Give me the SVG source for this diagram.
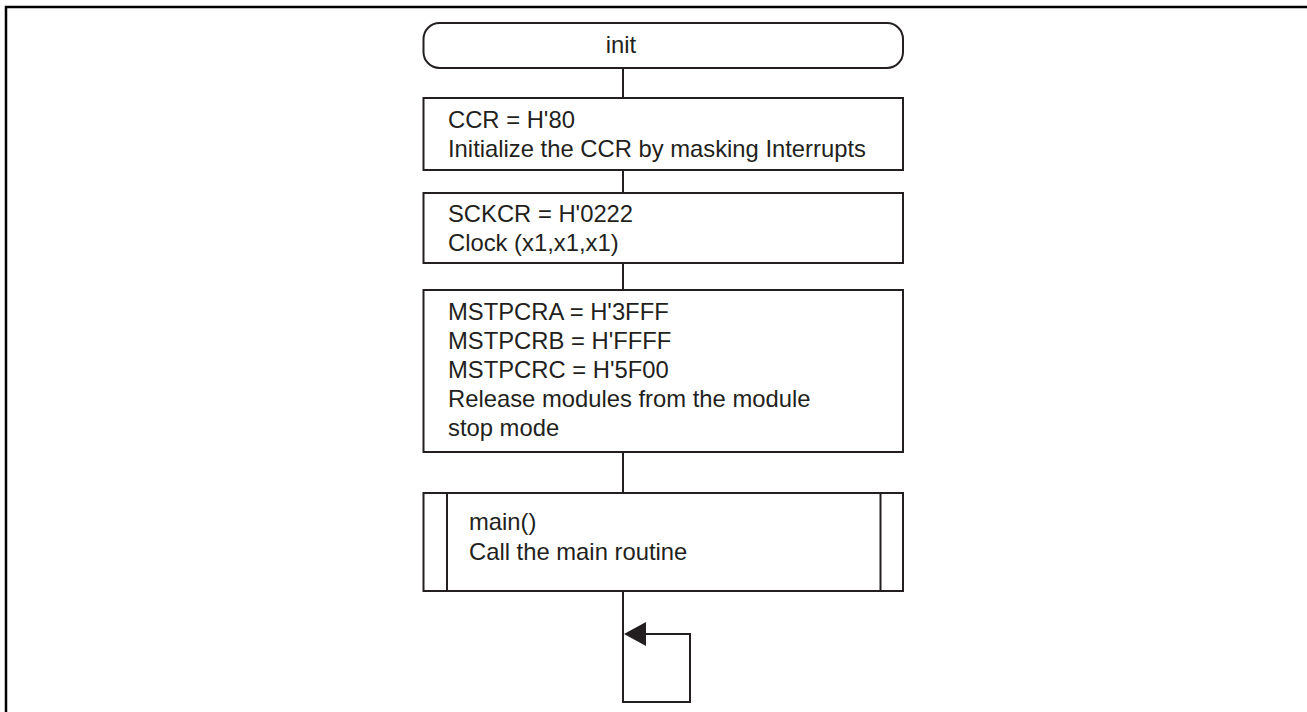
<svg xmlns="http://www.w3.org/2000/svg" width="1307" height="712" viewBox="0 0 1307 712">
<defs>
<style>
.shape{fill:#fff;stroke:#231f20;stroke-width:2}
.ln{fill:none;stroke:#231f20;stroke-width:2}
.tx{font-family:"Liberation Sans",Arial,sans-serif;font-size:23.8px;fill:#231f20}
</style>
<marker id="ah" viewBox="0 0 22 24" refX="0" refY="12" markerWidth="22" markerHeight="24" markerUnits="userSpaceOnUse" orient="auto">
<path d="M22,12 L0,0 L0,24 Z" fill="#231f20"/>
</marker>
</defs>
<rect width="1307" height="712" fill="#fff"/>
<path d="M6,712 V7 H1307" fill="none" stroke="#000" stroke-width="2.5"/>
<g id="connectors">
<line class="ln" x1="623" y1="68" x2="623" y2="98"/>
<line class="ln" x1="623" y1="170" x2="623" y2="193"/>
<line class="ln" x1="623" y1="263" x2="623" y2="290"/>
<line class="ln" x1="623" y1="452" x2="623" y2="493"/>
<path class="ln" d="M623,591 V702 H690 V634 H646" marker-end="url(#ah)"/>
</g>
<g id="init">
<rect class="shape" x="423.5" y="23" width="479.5" height="45" rx="16" ry="16"/>
<text class="tx" x="621" y="53" text-anchor="middle">init</text>
</g>
<g id="ccr">
<rect class="shape" x="423.5" y="98" width="479.5" height="72"/>
<text class="tx" x="448" y="128">CCR = H'80</text>
<text class="tx" x="448" y="157">Initialize the CCR by masking Interrupts</text>
</g>
<g id="sckcr">
<rect class="shape" x="423.5" y="193" width="479.5" height="70"/>
<text class="tx" x="448" y="222">SCKCR = H'0222</text>
<text class="tx" x="448" y="251">Clock (x1,x1,x1)</text>
</g>
<g id="mstpcr">
<rect class="shape" x="423.5" y="290" width="479.5" height="162"/>
<text class="tx" x="448" y="320">MSTPCRA = H'3FFF</text>
<text class="tx" x="448" y="349">MSTPCRB = H'FFFF</text>
<text class="tx" x="448" y="378">MSTPCRC = H'5F00</text>
<text class="tx" x="448" y="407">Release modules from the module</text>
<text class="tx" x="448" y="436">stop mode</text>
</g>
<g id="main">
<rect class="shape" x="423.5" y="493" width="479.5" height="98"/>
<line class="ln" x1="447" y1="493" x2="447" y2="591"/>
<line class="ln" x1="880.5" y1="493" x2="880.5" y2="591"/>
<text class="tx" x="469" y="530">main()</text>
<text class="tx" x="469" y="560">Call the main routine</text>
</g>
</svg>
